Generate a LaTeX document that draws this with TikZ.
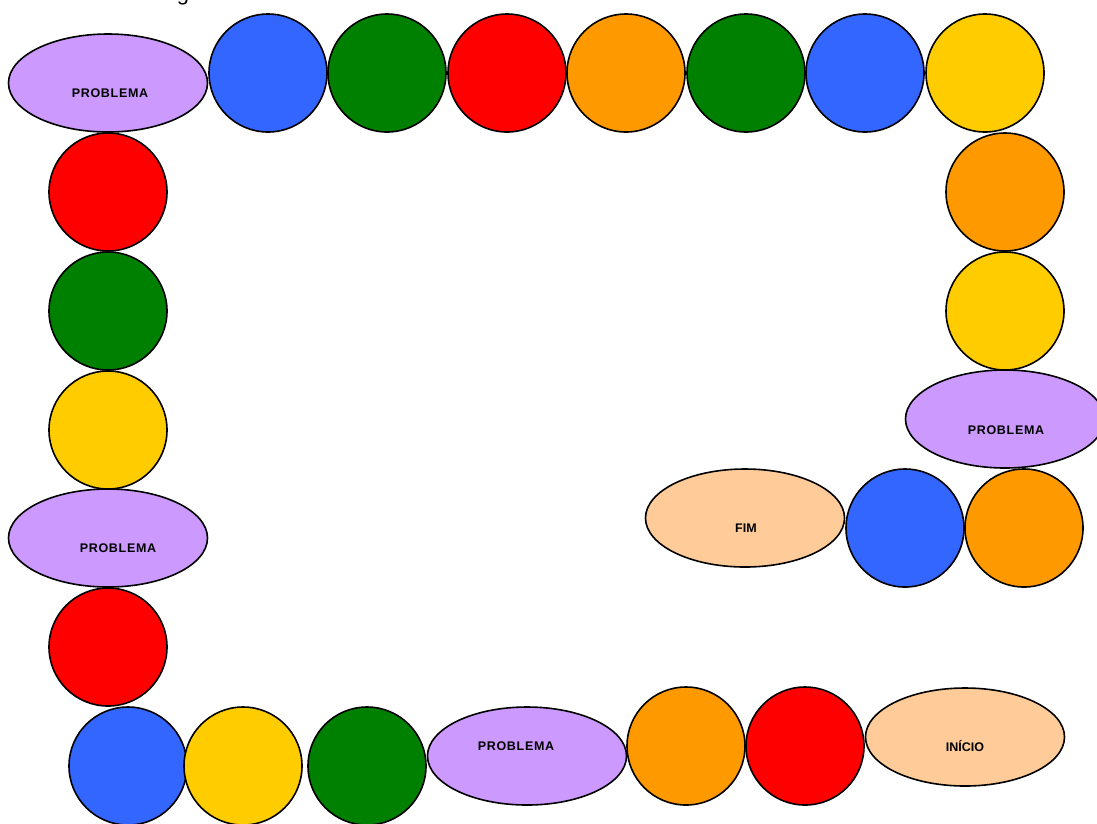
\documentclass[tikz,border=0pt]{standalone}
\usepackage{fontspec}
\setmainfont{Liberation Sans}
\usetikzlibrary{shapes.geometric}
\definecolor{cblue}{HTML}{3366FF}
\definecolor{cgreen}{HTML}{008000}
\definecolor{cred}{HTML}{FF0000}
\definecolor{corange}{HTML}{FF9900}
\definecolor{cyellow}{HTML}{FFCC00}
\definecolor{cpurple}{HTML}{CC99FF}
\definecolor{cpeach}{HTML}{FFCC99}
\newcommand{\probl}{P\kern.7pt R\kern.7pt O\kern.7pt B\kern.7pt L\kern.7pt E\kern.7pt M\kern.7pt A}
\tikzset{
  ball/.style={circle, draw=black, line width=1.6pt, minimum size=118pt, inner sep=0pt, fill=#1},
  oval/.style={ellipse, draw=black, line width=1.6pt, minimum width=199pt, minimum height=98pt, inner sep=0pt, fill=#1},
  lbl/.style={font=\fontsize{12.5}{14}\selectfont\bfseries, inner sep=0pt}
}
\begin{document}
\begin{tikzpicture}[x=1pt,y=-1pt]
\useasboundingbox (0,0) rectangle (1097,823);
\node[anchor=base, font=\fontsize{22}{24}\selectfont, inner sep=0pt] (g) at (183,0) {g};
% top row
\node[oval=cpurple] (p1) at (108,83) {};
\node[lbl] (p1t) at (110,93) {\probl};
\node[ball=cblue] (t1) at (268,73) {};
\node[ball=cgreen] (t2) at (387,73) {};
\node[ball=cred] (t3) at (507,73) {};
\node[ball=corange] (t4) at (626,73) {};
\node[ball=cgreen] (t5) at (746,73) {};
\node[ball=cblue] (t6) at (865,73) {};
\node[ball=cyellow] (t7) at (985,73) {};
% left column
\node[ball=cred] (l1) at (108,192) {};
\node[ball=cgreen] (l2) at (108,311) {};
\node[ball=cyellow] (l3) at (108,430) {};
\node[oval=cpurple] (p2) at (108,538) {};
\node[lbl] (p2t) at (118,548) {\probl};
\node[ball=cred] (l4) at (108,647) {};
% bottom row
\node[ball=cblue] (b1) at (128,766) {};
\node[ball=cyellow] (b2) at (243,766) {};
\node[ball=cgreen] (b3) at (367,766) {};
\node[oval=cpurple] (p3) at (527,756) {};
\node[lbl] (p3t) at (516,746) {\probl};
\node[ball=corange] (b4) at (686,746) {};
\node[ball=cred] (b5) at (805,746) {};
\node[oval=cpeach] (ini) at (965,737) {};
\node[lbl] (init) at (965,746) {INÍCIO};
% right column
\node[ball=corange] (r1) at (1005,192) {};
\node[ball=cyellow] (r2) at (1005,311) {};
\node[oval=cpurple] (p4) at (1005,419) {};
\node[lbl] (p4t) at (1006,430) {\probl};
\node[ball=cblue] (r3) at (905,528) {};
\node[ball=corange] (r4) at (1024,528) {};
\node[oval=cpeach] (fim) at (745,518) {};
\node[lbl] (fimt) at (746,528) {FIM};
\end{tikzpicture}
\end{document}
